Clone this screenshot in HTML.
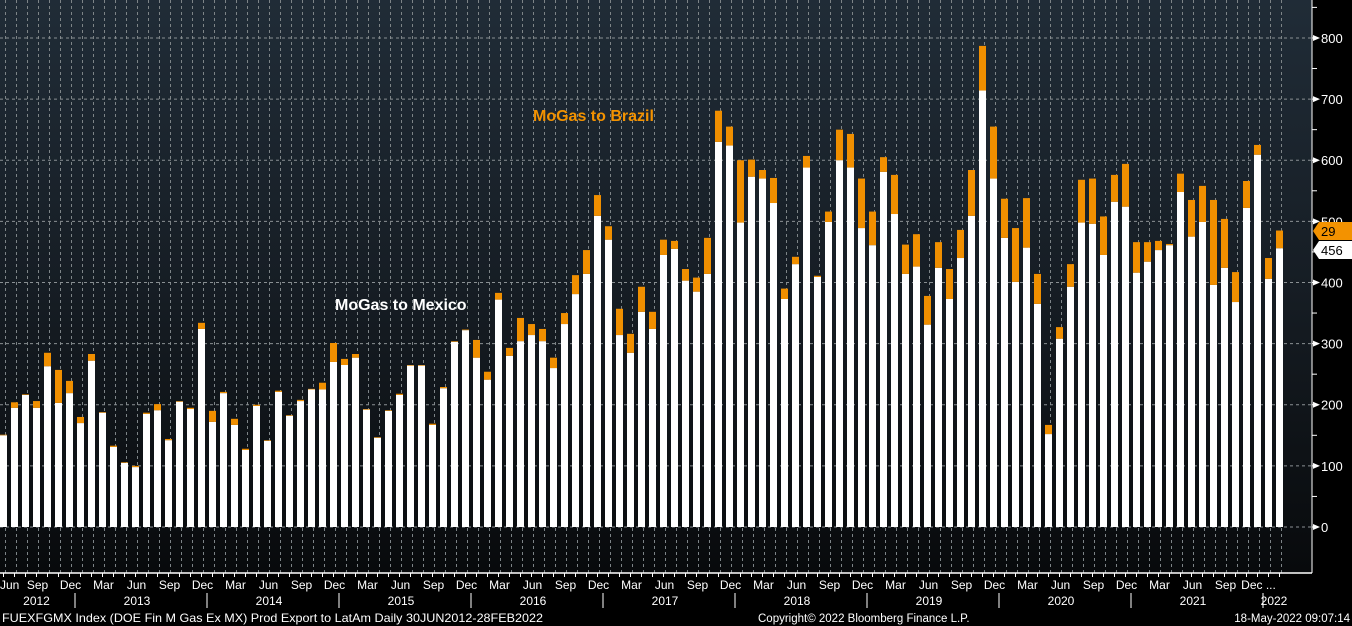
<!DOCTYPE html>
<html><head><meta charset="utf-8">
<style>
html,body{margin:0;padding:0;background:#000;}
svg{display:block;font-family:"Liberation Sans",sans-serif;}
</style></head>
<body>
<svg id="chart" width="1352" height="626" viewBox="0 0 1352 626" xmlns="http://www.w3.org/2000/svg">
<defs>
<linearGradient id="bg" x1="0" y1="0" x2="0" y2="1">
<stop offset="0" stop-color="#202c37"/>
<stop offset="0.5" stop-color="#161d24"/>
<stop offset="1" stop-color="#080a0c"/>
</linearGradient>
</defs>
<rect x="0" y="0" width="1312" height="573" fill="url(#bg)"/>
<g id="grid"></g>
<g id="bars"></g>
<g id="axis"></g>
<text x="533" y="121" fill="#f39200" font-size="16" font-weight="bold">MoGas to Brazil</text>
<text x="335" y="310" fill="#ffffff" font-size="16" font-weight="bold">MoGas to Mexico</text>
<text x="2" y="622" fill="#ffffff" font-size="12" textLength="541" lengthAdjust="spacingAndGlyphs">FUEXFGMX Index (DOE Fin M Gas Ex MX) Prod Export to LatAm  Daily 30JUN2012-28FEB2022</text>
<text x="758" y="622" fill="#ffffff" font-size="11.5">Copyright© 2022 Bloomberg Finance L.P.</text>
<text x="1350" y="622" fill="#ffffff" font-size="11.5" text-anchor="end">18-May-2022 09:07:14</text>
</svg>
<script>
const mexico = [150,195,216,195,263,203,219,170,272,187,131,105,98,185,191,142,205,193,324,172,219,167,126,198,141,221,182,206,225,225,270,265,277,192,146,190,216,264,264,167,227,303,322,277,241,372,280,304,314,304,260,332,381,414,509,470,314,285,352,324,445,455,403,385,414,630,624,498,573,570,530,373,430,588,409,499,600,588,489,461,581,512,414,426,331,424,373,440,509,714,570,473,401,457,365,152,308,393,498,496,445,532,524,416,434,453,461,548,475,499,396,424,368,522,609,406,456];
const total = [151,204,217,206,285,257,239,180,283,188,133,106,100,187,201,144,206,195,334,190,221,177,128,200,142,223,183,208,226,236,301,275,283,193,147,191,218,265,265,169,229,304,323,306,254,383,293,342,332,324,277,350,412,453,543,492,357,316,393,352,470,468,422,408,473,681,655,600,601,584,571,390,442,607,411,516,650,643,570,516,605,576,462,479,378,466,422,486,584,787,655,537,489,538,414,167,327,430,568,570,508,576,594,466,466,468,463,578,535,558,535,504,417,566,625,440,485];
const yTicks = [0,100,200,300,400,500,600,700,800];
const monthNames = ["Jun","Sep","Dec","Mar"];
const years = ["2012","2013","2014","2015","2016","2017","2018","2019","2020","2021","2022"];

const NS="http://www.w3.org/2000/svg";
function y(v){return 527 - v*0.6113;}
function x(i){return i*11.0;}
const BW=7;
function mk(tag,attrs,parent){const e=document.createElementNS(NS,tag);for(const k in attrs)e.setAttribute(k,attrs[k]);parent.appendChild(e);return e;}
const grid=document.getElementById('grid'),bars=document.getElementById('bars'),axis=document.getElementById('axis');

for(let i=0;i<total.length;i++){
  const l=mk('line',{x1:x(i)+BW/2+2,x2:x(i)+BW/2+2,y1:0,y2:573,stroke:'#7d8487','stroke-width':1,'stroke-dasharray':'3,3'},grid);
  
  
}
yTicks.forEach(v=>{
  const l=mk('line',{x1:0,x2:1312,y1:y(v),y2:y(v),stroke:'#8a9093','stroke-width':1,'stroke-dasharray':'3,3'},grid);
  
  
});

for(let i=0;i<total.length;i++){
  const w=mk('rect',{x:x(i),y:y(mexico[i]),width:BW,height:527-y(mexico[i]),fill:'#ffffff'},bars);
  
  
  const b=mk('rect',{x:x(i),y:y(total[i]),width:BW,height:Math.max(0,y(mexico[i])-y(total[i])),fill:'#f08f00'},bars);
  
  
}

const ax=mk('line',{x1:1312,x2:1312,y1:0,y2:573,stroke:'#ffffff','stroke-width':1},axis);


for(let v=0;v<=850;v+=50){
  const t=mk('line',{x1:1312,x2:1317,y1:y(v),y2:y(v),stroke:'#ffffff','stroke-width':1},axis);
  
  
}
yTicks.forEach(v=>{
  const tr=mk('polygon',{points:`1313,${y(v)-3} 1320,${y(v)} 1313,${y(v)+3}`,fill:'#ffffff'},axis);
  
  
  const t=mk('text',{x:1321,y:y(v)+5,fill:'#ffffff','font-size':13},axis);
  t.textContent=v;
  
  
});
const lastM=mexico[mexico.length-1],lastT=total[total.length-1];
const tagB=mk('polygon',{points:`1313,231 1319,222 1352,222 1352,240 1319,240`,fill:'#f39200'},axis);


const tb=mk('text',{x:1321,y:236,fill:'#000','font-size':13},axis);tb.textContent=lastT-lastM;


const tagM=mk('polygon',{points:`1313,250 1319,241 1352,241 1352,259 1319,259`,fill:'#ffffff'},axis);


const tm=mk('text',{x:1321,y:255,fill:'#000','font-size':13},axis);tm.textContent=lastM;



const xl=mk('line',{x1:0,x2:1312,y1:573,y2:573,stroke:'#ffffff','stroke-width':1.5},axis);


for(let i=0;i<total.length;i++){
  const t=mk('line',{x1:x(i)+BW/2,x2:x(i)+BW/2,y1:573,y2:577,stroke:'#ffffff','stroke-width':1},axis);
  
  
}
for(let i=0;i<total.length;i+=3){
  const first = i===0;
  const t=mk('text',{x:first?0:x(i)+BW/2+1,y:589,fill:'#ffffff','font-size':12,'text-anchor':first?'start':'middle'},axis);
  t.textContent = (i>=114)?'Dec ...':monthNames[(i/3)%4];
  
  
}
years.forEach((yr,k)=>{
  const s = k===0?0:7+12*(k-1);
  const e = Math.min(7+12*k, total.length);
  const cx=(x(s)+x(e-1)+BW)/2 - (k===0||k===years.length-1?0:4);
  const t=mk('text',{x:cx,y:605,fill:'#ffffff','font-size':12,'text-anchor':'middle'},axis);
  t.textContent=yr;
  
  
  if(k>0){
    const sx=x(s)-2;
    const sl=mk('line',{x1:sx,x2:sx,y1:593,y2:608,stroke:'#ffffff','stroke-width':1},axis);
    
    
  }
});
</script>
</body></html>
